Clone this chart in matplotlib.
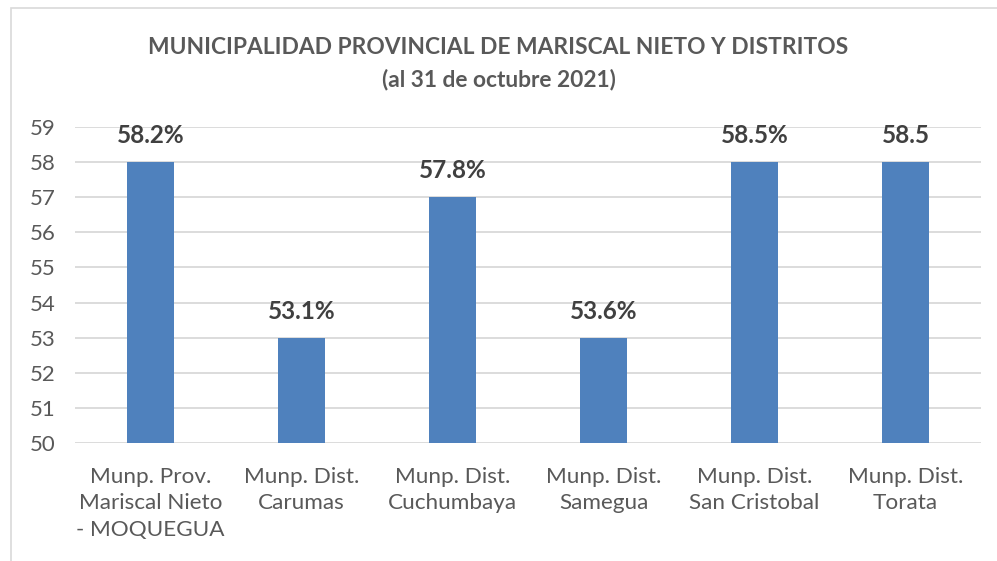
import matplotlib
matplotlib.use("Agg")
import matplotlib.pyplot as plt
from matplotlib.patches import Rectangle

plt.rcParams.update({"font.family": ["Lato", "DejaVu Sans"]})

categories = ["Munp. Prov.\nMariscal Nieto\n- MOQUEGUA", "Munp. Dist.\nCarumas",
              "Munp. Dist.\nCuchumbaya", "Munp. Dist.\nSamegua",
              "Munp. Dist.\nSan Cristobal", "Munp. Dist.\nTorata"]
values = [58, 53, 57, 53, 58, 58]
labels = ["58.2%", "53.1%", "57.8%", "53.6%", "58.5%", "58.5"]
yticks = list(range(50, 60))

GRAY = "#595959"
BAR = "#4F81BD"
GRID = "#D9D9D9"

fig = plt.figure(figsize=(9.97, 5.61), dpi=100)
ax = fig.add_axes([75 / 997, 1 - 443 / 561, (981 - 75) / 997, (443 - 127) / 561])

x = range(len(categories))
ax.bar(x, values, width=0.31, color=BAR, zorder=3)
for xi, v, lab in zip(x, values, labels):
    ax.text(xi, v + 0.42, lab, ha="center", va="bottom", fontsize=17.5,
            fontweight="bold", color="#404040")

ax.set_ylim(50, 59)
ax.set_xlim(-0.5, len(categories) - 0.5)
ax.set_yticks(yticks)
ax.yaxis.grid(True, color=GRID, lw=1.3, zorder=0)
ax.set_xticks(list(x))
ax.set_xticklabels(categories, fontsize=16.2, color=GRAY, linespacing=1.42)
for lab in ax.get_yticklabels():
    lab.set_color(GRAY)
    lab.set_fontsize(16)
ax.tick_params(length=0, pad=14)
ax.tick_params(axis="x", pad=17)
for s in ax.spines.values():
    s.set_visible(False)

fig.text(0.5, 1 - 47 / 561, "MUNICIPALIDAD PROVINCIAL DE MARISCAL NIETO Y DISTRITOS",
         ha="center", va="center", fontsize=16.4, fontweight="bold", color=GRAY)
fig.text(0.5, 1 - 79 / 561, "(al 31 de octubre 2021)",
         ha="center", va="center", fontsize=16.4, fontweight="bold", color=GRAY)

fig.add_artist(Rectangle((11 / 997, -0.01), 1.0, 1 - 8 / 561 + 0.01,
                         transform=fig.transFigure, fill=False,
                         edgecolor="#D9D9D9", lw=1.2))

fig.savefig("out.png", dpi=100, facecolor="white")
